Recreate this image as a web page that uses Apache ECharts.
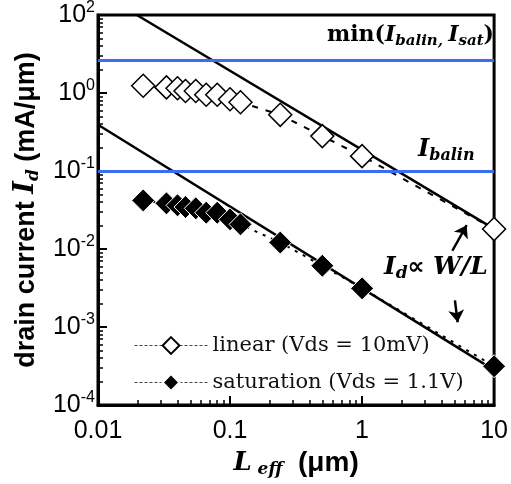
<!DOCTYPE html>
<html><head><meta charset="utf-8">
<script src="https://cdn.jsdelivr.net/npm/echarts@6/dist/echarts.min.js"></script>
<style>html,body{margin:0;padding:0;background:#fff}#c{width:511px;height:484px}</style>
</head><body><div id="c"></div>
<script>
// ---- data ----
const lengths   = [0.022, 0.033, 0.04, 0.046, 0.055, 0.066, 0.08, 0.1, 0.12, 0.24, 0.5, 1, 10];
const linearId  = [1.24, 1.18, 1.15, 1.06, 1.06, 0.95, 0.95, 0.83, 0.76, 0.525, 0.28, 0.155, 0.018];
const satId     = [0.042, 0.0385, 0.0363, 0.0345, 0.0332, 0.0292, 0.0292, 0.024, 0.0207, 0.0121, 0.0061, 0.00313, 0.000314];
const refLinL   = [0.0197, 10];
const refLinI   = [10, 0.0181];
const refSatL   = [0.01, 10];
const refSatI   = [0.392, 0.00028];
const limitLevels = [2.6, 0.1];          // min(Ibalin,Isat), Ibalin
const seriesNames = ['linear (Vds = 10mV)', 'saturation (Vds = 1.1V)'];
const xTickValues = [0.01, 0.1, 1, 10];
const xTickLabels = ['0.01', '0.1', '1', '10'];
const yTickValues = [1e-4, 1e-3, 1e-2, 1e-1, 1, 10];
const yTickExps   = ['-4', '-3', '-2', '-1', '0', '2'];
const arrowUp   = [[4.83, 0.0095], [6.2, 0.0202]];
const arrowDown = [[5.05, 0.0022], [5.3, 0.00115]];

function minorTicks(lo, hi) {
  const out = [];
  for (let e = lo; e < hi; e++) for (let k = 2; k <= 9; k++) out.push(+(k * Math.pow(10, e)).toPrecision(3));
  return out;
}
const xMinor = minorTicks(-2, 1);
const yMinor = minorTicks(-4, 1);

const pair = (xs, ys) => xs.map((x, i) => [x, ys[i]]);
const SERIF = 'DejaVu Serif';
const SANS = 'Liberation Sans';

const chart = echarts.init(document.getElementById('c'), null, {renderer: 'canvas'});
const axisLineStyle = {color: '#000', width: 3};

chart.setOption({
  animation: false,
  backgroundColor: '#fff',
  grid: {left: 98, right: 14, top: 13, bottom: 79, show: true, borderColor: '#000', borderWidth: 3, containLabel: false},
  legend: {
    data: seriesNames, orient: 'vertical', left: 129, top: 330,
    itemWidth: 73, itemHeight: 21, itemGap: 16,
    lineStyle: {width: 1, type: [3, 2], color: '#444'},
    textStyle: {fontFamily: SERIF, fontSize: 21, color: '#111'}
  },
  xAxis: [{
    type: 'log', logBase: 10, min: 0.01, max: 10, position: 'bottom',
    axisLine: {show: true, lineStyle: axisLineStyle},
    axisTick: {inside: true, length: 9, lineStyle: {color: '#000', width: 2}},
    splitLine: {show: false},
    axisLabel: {
      margin: 14, fontFamily: SANS, fontSize: 25, color: '#000',
      formatter: v => { const i = xTickValues.findIndex(t => Math.abs(Math.log10(t) - Math.log10(v)) < 1e-6); return i >= 0 ? xTickLabels[i] : ''; }
    },
    name: '{L|L}{s| eff}{u|  (μm)}', nameLocation: 'middle', nameGap: 41,
    nameTextStyle: {
      rich: {
        L: {fontFamily: SERIF, fontStyle: 'italic', fontWeight: 'bold', fontSize: 26, lineHeight: 30, color: '#000'},
        s: {fontFamily: SERIF, fontStyle: 'italic', fontWeight: 'bold', fontSize: 17, lineHeight: 14, verticalAlign: 'bottom', color: '#000'},
        u: {fontFamily: SANS, fontWeight: 'bold', fontSize: 28, lineHeight: 30, color: '#000'}
      }
    }
  }, {
    type: 'log', logBase: 10, min: 0.01, max: 10, position: 'bottom',
    axisLine: {show: false}, axisLabel: {show: false}, splitLine: {show: false},
    axisTick: {inside: true, length: 5, customValues: xMinor, lineStyle: {color: '#000', width: 1.5}}
  }],
  yAxis: [{
    type: 'log', logBase: 10, min: 1e-4, max: 10, position: 'left',
    axisLine: {show: true, lineStyle: axisLineStyle},
    axisTick: {inside: true, length: 9, lineStyle: {color: '#000', width: 2}},
    splitLine: {show: false},
    axisLabel: {
      margin: 3,
      formatter: v => { const i = yTickValues.findIndex(t => Math.abs(Math.log10(t) - Math.log10(v)) < 1e-6); return i >= 0 ? '{b|10}{e|' + yTickExps[i] + '}' : ''; },
      rich: {
        b: {fontFamily: SANS, fontSize: 25, lineHeight: 30, color: '#000'},
        e: {fontFamily: SANS, fontSize: 16, lineHeight: 22, verticalAlign: 'top', color: '#000'}
      }
    },
    name: '{b|drain current }{i|I}{s|d}{b| (mA/μm)}', nameLocation: 'middle', nameGap: 55, nameRotate: 90,
    nameTextStyle: {
      rich: {
        b: {fontFamily: SANS, fontWeight: 'bold', fontSize: 27, lineHeight: 32, color: '#000'},
        i: {fontFamily: SERIF, fontStyle: 'italic', fontWeight: 'bold', fontSize: 27, lineHeight: 32, color: '#000'},
        s: {fontFamily: SERIF, fontStyle: 'italic', fontWeight: 'bold', fontSize: 17, lineHeight: 18, verticalAlign: 'bottom', color: '#000'}
      }
    }
  }, {
    type: 'log', logBase: 10, min: 1e-4, max: 10, position: 'left',
    axisLine: {show: false}, axisLabel: {show: false}, splitLine: {show: false},
    axisTick: {inside: true, length: 5, customValues: yMinor, lineStyle: {color: '#000', width: 1.5}}
  }],
  series: [
    {
      name: 'refLin', type: 'line', data: pair(refLinL, refLinI), symbol: 'none', silent: true,
      lineStyle: {color: '#000', width: 2.5}, z: 3,
      markLine: {
        silent: true, symbol: 'none', label: {show: false},
        lineStyle: {color: '#3a6cf4', width: 3, type: 'solid'},
        data: limitLevels.map(v => ({yAxis: v}))
      }
    },
    {
      name: 'refSat', type: 'line', data: pair(refSatL, refSatI), symbol: 'none', silent: true,
      lineStyle: {color: '#000', width: 2.5}, z: 3,
      markLine: {
        silent: true, symbol: ['none', 'arrow'], symbolSize: 12, label: {show: false},
        lineStyle: {color: '#000', width: 2.5, type: 'solid'},
        data: [arrowUp, arrowDown].map(a => [{coord: a[0]}, {coord: a[1]}])
      }
    },
    {
      name: seriesNames[0], type: 'line', data: pair(lengths, linearId),
      symbol: 'diamond', symbolSize: 23, z: 4,
      itemStyle: {color: '#fff', borderColor: '#000', borderWidth: 1.5},
      lineStyle: {color: '#000', width: 2, type: [6, 8]}
    },
    {
      name: seriesNames[1], type: 'line', data: pair(lengths, satId),
      symbol: 'diamond', symbolSize: 23, z: 4,
      itemStyle: {color: '#000', borderColor: '#fff', borderWidth: 1},
      lineStyle: {color: '#000', width: 2, type: [3, 6]}
    }
  ],
  graphic: [
    {
      type: 'text', right: 17, top: 24, z: 10,
      style: {
        text: '{n|min(}{i|I}{s|balin, }{i|I}{s|sat}{n|)}',
        rich: {
          n: {fontFamily: SERIF, fontWeight: 'bold', fontSize: 22, lineHeight: 28, fill: '#000'},
          i: {fontFamily: SERIF, fontWeight: 'bold', fontStyle: 'italic', fontSize: 22, lineHeight: 28, fill: '#000'},
          s: {fontFamily: SERIF, fontWeight: 'bold', fontStyle: 'italic', fontSize: 15, lineHeight: 16, verticalAlign: 'bottom', fill: '#000'}
        }
      }
    },
    {
      type: 'text', left: 418, top: 138, z: 10,
      style: {
        text: '{i|I}{s|balin}',
        rich: {
          i: {fontFamily: SERIF, fontWeight: 'bold', fontStyle: 'italic', fontSize: 24, lineHeight: 28, fill: '#000'},
          s: {fontFamily: SERIF, fontWeight: 'bold', fontStyle: 'italic', fontSize: 16, lineHeight: 16, verticalAlign: 'bottom', fill: '#000'}
        }
      }
    },
    {
      type: 'text', left: 384, top: 255, z: 10,
      style: {
        text: '{i|I}{s|d}{n|∝ }{i|W/L}',
        rich: {
          i: {fontFamily: SERIF, fontWeight: 'bold', fontStyle: 'italic', fontSize: 25, lineHeight: 30, fill: '#000'},
          n: {fontFamily: 'DejaVu Sans', fontWeight: 'bold', fontSize: 24, lineHeight: 30, fill: '#000'},
          s: {fontFamily: SERIF, fontWeight: 'bold', fontStyle: 'italic', fontSize: 17, lineHeight: 16, verticalAlign: 'bottom', fill: '#000'}
        }
      }
    }
  ]
});
</script>
</body></html>
